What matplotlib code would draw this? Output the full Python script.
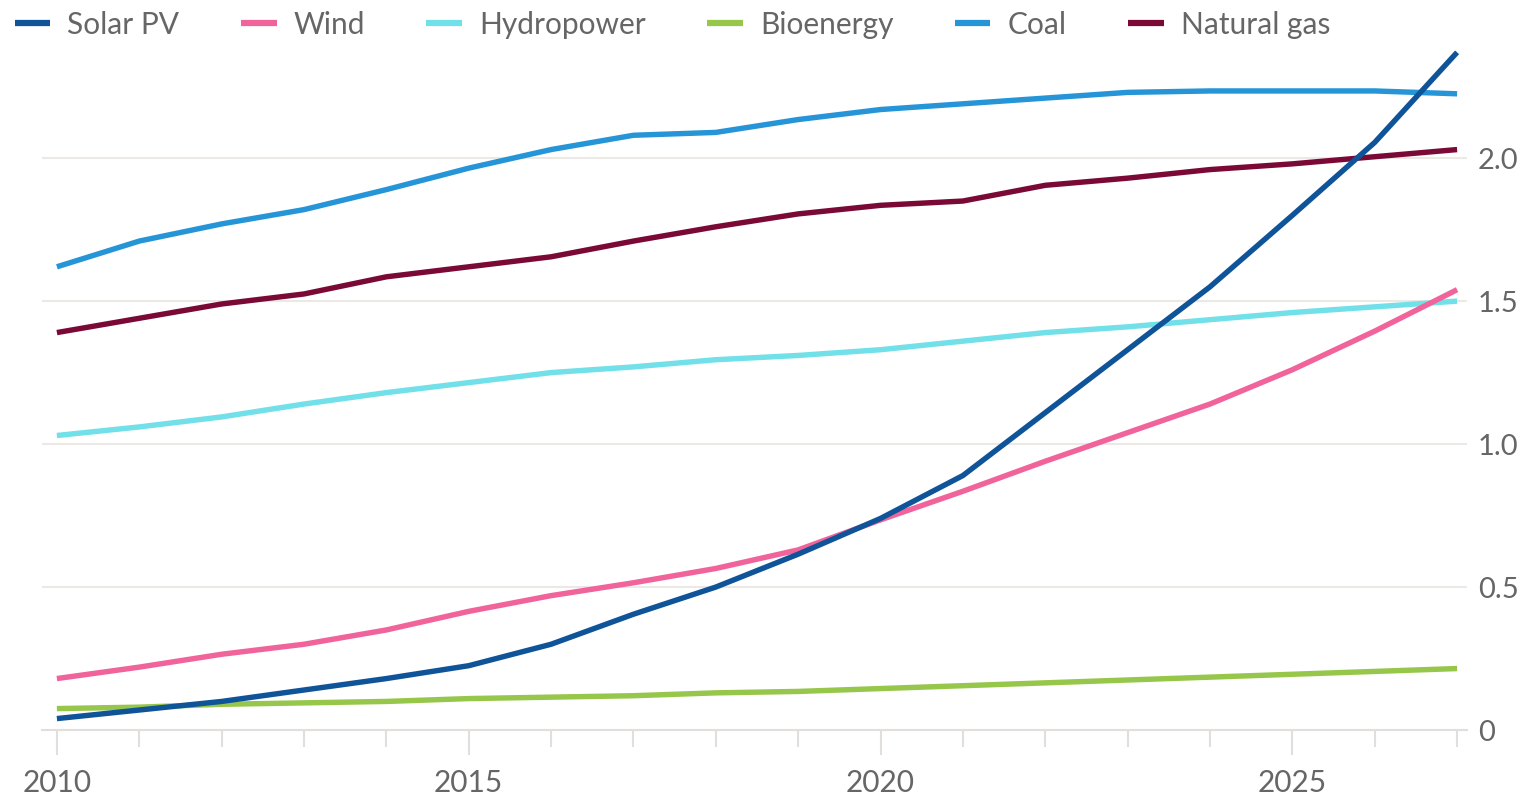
import matplotlib.pyplot as plt
from matplotlib.ticker import MultipleLocator, FixedLocator

plt.rcParams['font.family'] = ['Lato', 'DejaVu Sans']

years = list(range(2010, 2028))

solar_pv = [0.04, 0.07, 0.10, 0.14, 0.18, 0.225, 0.30, 0.405, 0.50, 0.615,
            0.74, 0.89, 1.11, 1.33, 1.55, 1.80, 2.055, 2.37]
wind = [0.18, 0.22, 0.265, 0.30, 0.35, 0.415, 0.47, 0.515, 0.565, 0.63,
        0.735, 0.835, 0.94, 1.04, 1.14, 1.26, 1.395, 1.54]
hydropower = [1.03, 1.06, 1.095, 1.14, 1.18, 1.215, 1.25, 1.27, 1.295, 1.31,
              1.33, 1.36, 1.39, 1.41, 1.435, 1.46, 1.48, 1.50]
bioenergy = [0.075, 0.08, 0.09, 0.095, 0.10, 0.11, 0.115, 0.12, 0.13, 0.135,
             0.145, 0.155, 0.165, 0.175, 0.185, 0.195, 0.205, 0.215]
coal = [1.62, 1.71, 1.77, 1.82, 1.89, 1.965, 2.03, 2.08, 2.09, 2.135,
        2.17, 2.19, 2.21, 2.23, 2.235, 2.235, 2.235, 2.225]
natural_gas = [1.39, 1.44, 1.49, 1.525, 1.585, 1.62, 1.655, 1.71, 1.76, 1.805,
               1.835, 1.85, 1.905, 1.93, 1.96, 1.98, 2.005, 2.03]

series = [
    ("Solar PV", solar_pv, "#0f5499", 6),
    ("Wind", wind, "#f0639b", 4),
    ("Hydropower", hydropower, "#72e0e8", 3),
    ("Bioenergy", bioenergy, "#96c64a", 2),
    ("Coal", coal, "#2695d8", 5),
    ("Natural gas", natural_gas, "#7a0a35", 5),
]

yticks = [0, 0.5, 1.0, 1.5, 2.0]
ytick_labels = ["0", "0.5", "1.0", "1.5", "2.0"]

fig = plt.figure(figsize=(15.3, 8.01), dpi=100)
ax = fig.add_axes([0.0275, 0.0886, 0.9313, 0.8614])

for name, vals, color, z in series:
    ax.plot(years, vals, color=color, lw=3.9, label=name, zorder=z,
            solid_capstyle='butt', clip_on=False)

ax.set_xlim(2009.82, 2027.12)
ax.set_ylim(0, 2.413)

for s in ['top', 'left', 'right']:
    ax.spines[s].set_visible(False)
ax.spines['bottom'].set_color('#e2dedb')
ax.spines['bottom'].set_linewidth(1.5)
ax.spines['bottom'].set_zorder(1)

ax.yaxis.tick_right()
ax.set_yticks(yticks)
ax.set_yticklabels(ytick_labels)
ax.tick_params(axis='y', length=0, pad=8, labelsize=21, labelcolor='#666666')
for y in yticks[1:]:
    ax.axhline(y, color='#ebe8e5', lw=1.5, zorder=0)

ax.xaxis.set_major_locator(FixedLocator([2010, 2015, 2020, 2025]))
ax.xaxis.set_minor_locator(MultipleLocator(1))
ax.tick_params(axis='x', which='major', length=18, width=1.5, color='#e2dedb',
               labelsize=21.5, labelcolor='#666666', pad=10)
ax.tick_params(axis='x', which='minor', length=12, width=1.5, color='#e2dedb')

leg = fig.legend(loc='upper left', bbox_to_anchor=(-0.008, 1.02), ncol=6,
                 frameon=False, fontsize=21.5, labelcolor='#666666',
                 handlelength=1.2, handletextpad=0.57, columnspacing=2.05)
for line in leg.get_lines():
    line.set_linewidth(4.5)

fig.savefig("out.png", dpi=100, facecolor='white')
